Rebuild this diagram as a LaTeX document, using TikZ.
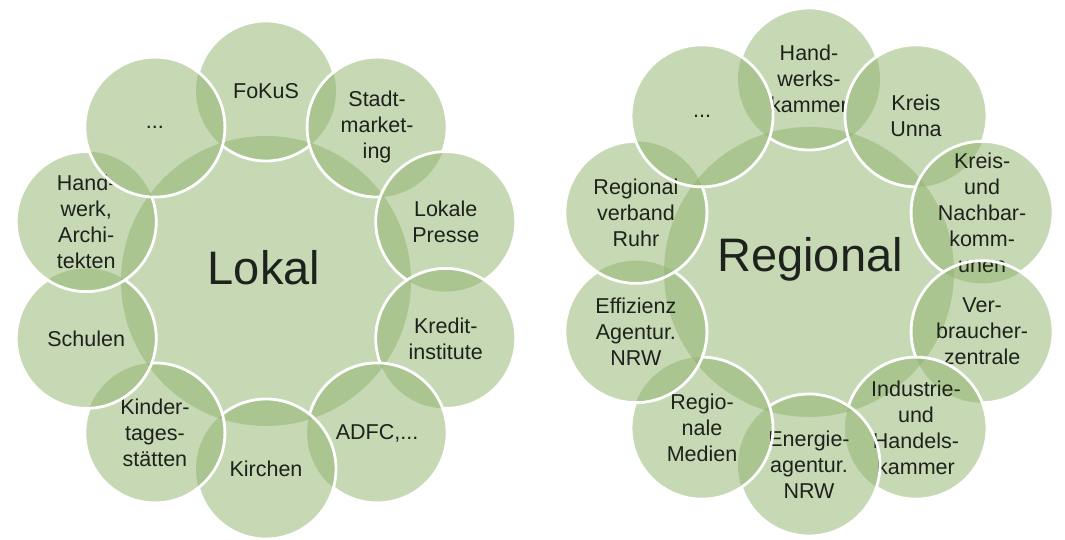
\documentclass[tikz,border=0pt]{standalone}
\usepackage{fontspec}
\setmainfont{Liberation Sans}
\definecolor{grn}{RGB}{143,179,107}
\definecolor{txt}{RGB}{30,34,28}
\begin{document}
\begin{tikzpicture}[x=1pt,y=1pt,
  disk/.style={circle, fill=grn, fill opacity=0.5, draw=none, inner sep=0pt, outer sep=0pt, minimum size=#1},
  disk/.default=140pt,
  lbl/.style={align=center, text=txt, inner sep=0pt, font=\fontsize{21.5}{26}\selectfont},
  big/.style={text=txt, inner sep=0pt, font=\fontsize{47}{50}\selectfont},
  ring/.style={draw=white, line width=2.8pt}]
\useasboundingbox (0,0) rectangle (1065,540);
\fill[white] (0,0) rectangle (1065,540);

% ---------------- left diagram: Lokal ----------------
\node[disk=290pt] (LC) at (266,259) {};
\foreach \k in {0,...,9}
  \node[disk=140pt] (L\k) at ({266+189*sin(36*\k)}, {260+189*cos(36*\k)}) {};
\node[big] (LCT) at (264,272) {Lokal};
\foreach \k/\t in {0/{FoKuS}, 1/{Stadt-\\market-\\ing}, 2/{Lokale\\Presse},
                   3/{Kredit-\\institute}, 4/{ADFC,...}, 5/{Kirchen},
                   6/{Kinder-\\tages-\\stätten}, 7/{Schulen},
                   8/{Hand-\\werk,\\Archi-\\tekten}, 9/{...}}
  \node[lbl] (LT\k) at (L\k.center) {\t};
\begin{scope}[even odd rule]
  \clip (0,540) rectangle (1065,0) (L1.center) circle[radius=70] (L9.center) circle[radius=70];
  \draw[ring] (L0.center) circle[radius=70];
\end{scope}
\foreach \k in {1,...,8} {
  \pgfmathtruncatemacro\n{\k+1}
  \begin{scope}[even odd rule]
    \clip (0,540) rectangle (1065,0) (L\n.center) circle[radius=70];
    \draw[ring] (L\k.center) circle[radius=70];
  \end{scope}
}
\draw[ring] (L9.center) circle[radius=70];

% ---------------- right diagram: Regional ----------------
\node[disk=290pt] (RC) at (809,268) {};
\foreach \k in {0,...,9}
  \node[disk=142pt] (R\k) at ({809+182*sin(36*\k)}, {268+193*cos(36*\k)}) {};
\node[big] (RCT) at (810,281) {Regional};
\foreach \k/\t in {0/{Hand-\\werks-\\kammer}, 1/{Kreis\\Unna},
                   2/{Kreis-\\und\\Nachbar-\\komm-\\unen},
                   3/{Ver-\\braucher-\\zentrale},
                   4/{Industrie-\\und\\Handels-\\kammer},
                   5/{Energie-\\agentur.\\NRW}, 6/{Regio-\\nale\\Medien},
                   7/{Effizienz\\Agentur.\\NRW}, 8/{Regional\\verband\\Ruhr}, 9/{...}}
  \node[lbl] (RT\k) at (R\k.center) {\t};
\begin{scope}[even odd rule]
  \clip (0,540) rectangle (1065,0) (R1.center) circle[radius=71] (R9.center) circle[radius=71];
  \draw[ring] (R0.center) circle[radius=71];
\end{scope}
\foreach \k in {1,...,8} {
  \pgfmathtruncatemacro\n{\k+1}
  \begin{scope}[even odd rule]
    \clip (0,540) rectangle (1065,0) (R\n.center) circle[radius=71];
    \draw[ring] (R\k.center) circle[radius=71];
  \end{scope}
}
\draw[ring] (R9.center) circle[radius=71];
\end{tikzpicture}
\end{document}
